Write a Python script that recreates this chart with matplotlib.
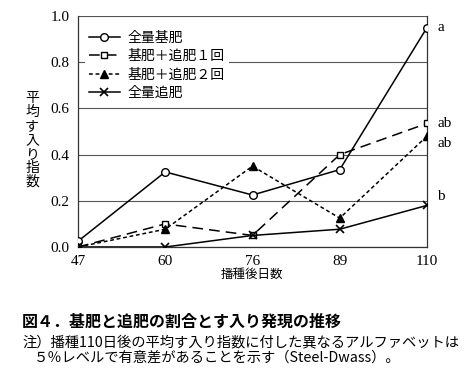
import matplotlib
matplotlib.use("Agg")
import matplotlib.pyplot as plt

plt.rcParams['font.family'] = ['Noto Sans CJK JP', 'DejaVu Sans']

days = ["47", "60", "76", "89", "110"]
series_names = ["全量基肥", "基肥＋追肥１回", "基肥＋追肥２回", "全量追肥"]
zenryo_kihi = [0.025, 0.325, 0.225, 0.335, 0.95]
tsuihi_1 = [0.0, 0.10, 0.05, 0.40, 0.535]
tsuihi_2 = [0.0, 0.077, 0.35, 0.125, 0.48]
zenryo_tsuihi = [0.0, 0.0, 0.05, 0.077, 0.18]
sig_labels = ["a", "ab", "ab", "b"]
sig_label_y = [0.95, 0.535, 0.45, 0.22]

serif = ['Liberation Serif', 'DejaVu Serif']

fig = plt.figure(figsize=(4.67, 3.78), dpi=100)
ax = fig.add_axes([78/467, 1-247/378, (427-78)/467, (247-16)/378])

x = list(range(len(days)))
ax.plot(x, zenryo_kihi, color='black', lw=1.1, marker='o', ms=5.5, mfc='white',
        mec='black', mew=1.0, label=series_names[0], zorder=5)
ax.plot(x, tsuihi_1, color='black', lw=1.1, ls=(0, (7, 4)), marker='s', ms=4.8,
        mfc='white', mec='black', mew=1.0, label=series_names[1], zorder=5)
ax.plot(x, tsuihi_2, color='black', lw=1.1, ls=(0, (2.5, 1.8)), marker='^', ms=5.5,
        mfc='black', mec='black', label=series_names[2], zorder=5)
ax.plot(x, zenryo_tsuihi, color='black', lw=1.1, marker='x', ms=6, mew=1.2,
        label=series_names[3], zorder=5)

for lab, yy in zip(sig_labels, sig_label_y):
    ax.text(len(days) - 1 + 0.12, yy, lab, fontsize=11, family=serif,
            va='center', ha='left', clip_on=False)

ax.set_xlim(0, len(days) - 1)
ax.set_ylim(0, 1.0)
ax.set_xticks(x)
ax.set_xticklabels(days, family=serif, fontsize=11)
ax.set_yticks([0.0, 0.2, 0.4, 0.6, 0.8, 1.0])
ax.set_yticklabels(["0.0", "0.2", "0.4", "0.6", "0.8", "1.0"], family=serif, fontsize=11)
ax.tick_params(length=0, pad=6)
ax.grid(axis='y', color='#555555', lw=0.8)
ax.set_axisbelow(True)
for side in ['left', 'right', 'bottom']:
    ax.spines[side].set_color('#333333')
    ax.spines[side].set_linewidth(0.9)
ax.spines['top'].set_visible(False)

leg = ax.legend(loc='upper left', bbox_to_anchor=(0.0, 0.985), frameon=True,
                framealpha=1, edgecolor='white', fancybox=False, fontsize=10,
                handlelength=2.2, labelspacing=0.32, borderpad=0.3,
                handletextpad=0.6, borderaxespad=0.5)
leg.get_frame().set_linewidth(0)

fig.text(32/467, 1-140/378, "平\n均\nす\n入\nり\n指\n数", ha='center', va='center',
         fontsize=10, linespacing=1.0)
fig.text(252/467, 1-274/378, "播種後日数", ha='center', va='center', fontsize=9)

fig.text(22/467, 1-322/378, "図４．基肥と追肥の割合とす入り発現の推移", ha='left',
         va='center', fontsize=11.5, fontweight='bold')
fig.text(22/467, 1-342/378, "注）播種110日後の平均す入り指数に付した異なるアルファベットは",
         ha='left', va='center', fontsize=10.3)
fig.text(34/467, 1-358/378, "５％レベルで有意差があることを示す（Steel-Dwass）。",
         ha='left', va='center', fontsize=10.3)

fig.savefig("out.png", dpi=100)
